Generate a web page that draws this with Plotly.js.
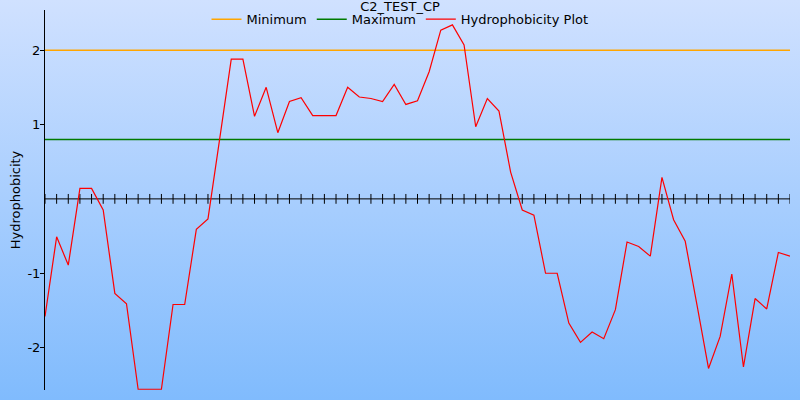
<!DOCTYPE html>
<html>
<head>
<meta charset="utf-8">
<script src="https://cdn.plot.ly/plotly-3.0.1.min.js"></script>
<style>
  html, body { margin: 0; padding: 0; }
  body { width: 800px; height: 400px; background: linear-gradient(to bottom, #d0e1ff 0%, #80bbfd 100%); }
  #chart { width: 800px; height: 400px; }
</style>
</head>
<body>
<div id="chart"></div>
<script>
// Residue positions (index along the sequence)
const positions = [0,1,2,3,4,5,6,7,8,9,10,11,12,13,14,15,16,17,18,19,20,21,22,23,24,25,26,27,28,29,30,31,32,33,34,35,36,37,38,39,40,41,42,43,44,45,46,47,48,49,50,51,52,53,54,55,56,57,58,59,60,61,62,63,64];

// Hydrophobicity values
const hydrophobicity = [
  -1.58, -0.51, -0.89, 0.14, 0.14, -0.15, -1.27, -1.41, -2.56, -2.56,
  -2.56, -1.42, -1.42, -0.41, -0.27, 0.80, 1.88, 1.88, 1.11, 1.50,
  0.89, 1.31, 1.36, 1.12, 1.12, 1.12, 1.50, 1.37, 1.35, 1.31,
  1.54, 1.27, 1.32, 1.71, 2.27, 2.34, 2.07, 0.97, 1.35, 1.18,
  0.36, -0.15, -0.22, -1.00, -1.00, -1.67, -1.93, -1.79, -1.88, -1.49,
  -0.58, -0.64, -0.77, 0.29, -0.28, -0.57, -1.42, -2.28, -1.85, -1.01,
  -2.26, -1.34, -1.48, -0.72, -0.77
];

// Reference levels
const minimumLevel = 2.0;
const maximumLevel = 0.8;
const baselineLevel = 0;

const seriesNames = ['Minimum', 'Maximum', 'Hydrophobicity Plot'];
const chartTitle = 'C2_TEST_CP';
const yTitle = 'Hydrophobicity';
const yTickVals = [-2, -1, 1, 2];
const yTickText = ['-2', '-1', '1', '2'];

const fontFamily = 'DejaVu Sans, Verdana, sans-serif';

const traces = [
  {
    x: positions,
    y: positions.map(() => baselineLevel),
    mode: 'lines+markers',
    line: { color: '#000000', width: 1 },
    marker: { symbol: 'line-ns', size: 7, color: '#000000', line: { color: '#000000', width: 1 } },
    showlegend: false,
    hoverinfo: 'skip'
  },
  {
    x: positions,
    y: positions.map(() => minimumLevel),
    mode: 'lines',
    name: seriesNames[0],
    line: { color: '#ffa500', width: 1.5 }
  },
  {
    x: positions,
    y: positions.map(() => maximumLevel),
    mode: 'lines',
    name: seriesNames[1],
    line: { color: '#007a00', width: 1.5 }
  },
  {
    x: positions,
    y: hydrophobicity,
    mode: 'lines',
    name: seriesNames[2],
    line: { color: '#ff0000', width: 1.2 }
  }
];

const layout = {
  width: 800,
  height: 400,
  margin: { l: 45, r: 10, t: 10, b: 10, autoexpand: false },
  paper_bgcolor: 'rgba(0,0,0,0)',
  plot_bgcolor: 'rgba(0,0,0,0)',
  font: { family: fontFamily, size: 13, color: '#000000' },
  title: {
    text: chartTitle,
    x: 0.5, xanchor: 'center',
    y: 0.984, yanchor: 'middle', yref: 'container',
    font: { family: fontFamily, size: 13, color: '#000000' }
  },
  showlegend: true,
  legend: {
    orientation: 'h',
    x: 0.5, xanchor: 'center', xref: 'container',
    y: 0.952, yanchor: 'middle', yref: 'container',
    bgcolor: 'rgba(0,0,0,0)',
    font: { family: fontFamily, size: 13, color: '#000000' },
    traceorder: 'normal',
    itemwidth: 30
  },
  xaxis: {
    visible: false,
    range: [0, 64],
    showgrid: false,
    zeroline: false
  },
  yaxis: {
    range: [-2.57, 2.54],
    showgrid: false,
    zeroline: false,
    showline: true,
    linecolor: '#000000',
    linewidth: 1,
    ticks: 'outside',
    ticklen: 4,
    tickcolor: '#000000',
    ticklabelstandoff: -3,
    tickvals: yTickVals,
    ticktext: yTickText,
    tickfont: { family: fontFamily, size: 13, color: '#000000' },
    title: { text: yTitle, font: { family: fontFamily, size: 13, color: '#000000' }, standoff: 3 },
    automargin: false
  }
};

Plotly.newPlot('chart', traces, layout, { staticPlot: true, displayModeBar: false });
</script>
</body>
</html>
